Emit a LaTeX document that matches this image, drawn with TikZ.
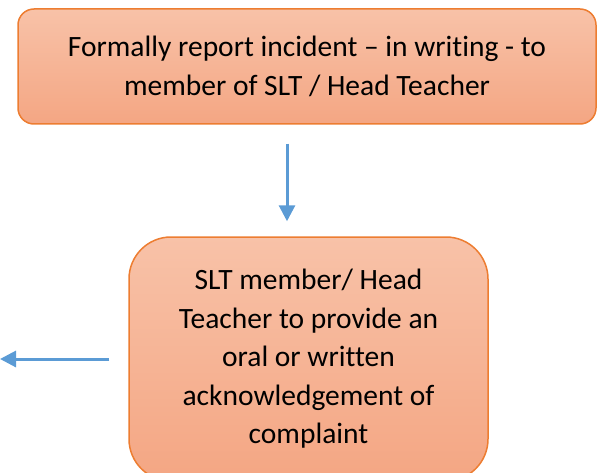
\documentclass[tikz,border=0pt]{standalone}
\usepackage{fontspec}
\setmainfont[Ligatures=NoCommon]{Carlito}
\usetikzlibrary{arrows.meta}

\definecolor{boxline}{HTML}{ED7D31}
\definecolor{boxtop}{HTML}{F8C2A8}
\definecolor{boxbottom}{HTML}{F4A683}
\definecolor{flow}{HTML}{5B9BD5}

\tikzset{
  stepbox/.style={draw=boxline, line width=1.5pt, top color=boxtop, bottom color=boxbottom,
    align=center, font=\fontsize{29.5}{38.5}\selectfont, inner sep=0pt},
  flowarrow/.style={draw=flow, line width=3pt, -{Triangle[width=16pt,length=16pt]}}
}

\begin{document}
\begin{tikzpicture}[x=1pt,y=-1pt]
  \useasboundingbox (0,0) rectangle (604,473);

  %% Boxes
  \node [stepbox, rounded corners=16pt, minimum width=578pt, minimum height=115pt]
    (report) at (307,66.5) {Formally report incident -- in writing - to\\member of SLT / Head Teacher};
  \node [stepbox, rounded corners=42pt, minimum width=359pt, minimum height=244pt]
    (ack) at (308.5,359) {SLT member/ Head\\Teacher to provide an\\oral or written\\acknowledgement of\\complaint};

  %% Arrows
  \coordinate (drop) at (287,0);
  \coordinate (exit) at (0,359);
  \draw [flowarrow, shorten <=19pt, shorten >=15pt] (report.south -| drop) -- (ack.north -| drop);
  \draw [flowarrow, shorten <=19pt] (ack.west |- exit) -- (exit);
\end{tikzpicture}
\end{document}
